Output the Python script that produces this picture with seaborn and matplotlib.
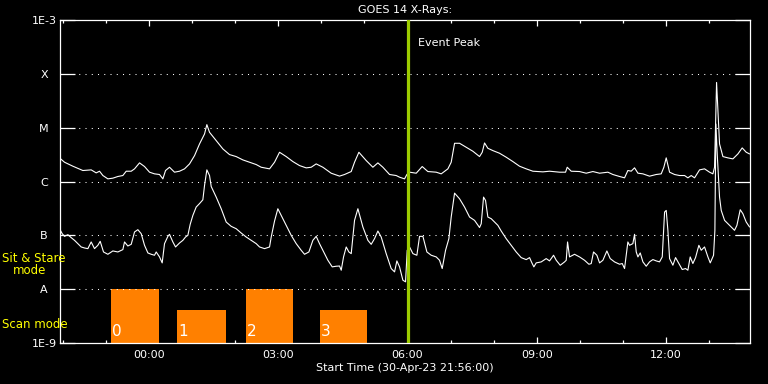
import numpy as np
import pandas as pd
import seaborn as sns
import matplotlib.pyplot as plt
from matplotlib.ticker import FixedLocator, MultipleLocator, NullLocator

# hours relative to 00:00 on 01-May-23 (start is 21:56 the day before)
long_hours = [
    -2.078, -1.962, -1.768, -1.536, -1.343, -1.227, -1.149, -1.072, -0.956, -0.840,
    -0.724, -0.608, -0.530, -0.414, -0.337, -0.221, -0.105, 0.011, 0.127, 0.243,
    0.321, 0.383, 0.475, 0.591, 0.708, 0.824, 0.940, 1.056, 1.172, 1.288,
    1.342, 1.404, 1.559, 1.714, 1.868, 2.023, 2.178, 2.333, 2.487, 2.603,
    2.797, 2.913, 3.029, 3.184, 3.339, 3.493, 3.648, 3.764, 3.880, 4.035,
    4.228, 4.422, 4.538, 4.693, 4.770, 4.871, 5.041, 5.196, 5.312, 5.428,
    5.583, 5.737, 5.815, 5.931, 5.985, 6.047, 6.202, 6.341, 6.472, 6.666,
    6.782, 6.937, 7.014, 7.092, 7.208, 7.362, 7.517, 7.672, 7.734, 7.788,
    7.865, 7.981, 8.136, 8.291, 8.446, 8.600, 8.755, 8.910, 9.142, 9.297,
    9.529, 9.668, 9.707, 9.800, 9.993, 10.148, 10.303, 10.458, 10.651, 10.767,
    10.922, 11.038, 11.115, 11.193, 11.270, 11.348, 11.464, 11.618, 11.773, 11.889,
    11.951, 12.005, 12.083, 12.199, 12.315, 12.431, 12.508, 12.586, 12.663, 12.779,
    12.895, 13.011, 13.089, 13.127, 13.150, 13.174, 13.205, 13.243, 13.321, 13.437,
    13.553, 13.669, 13.769, 13.862, 13.940,
]
long_logflux = [
    -5.562, -5.642, -5.716, -5.796, -5.784, -5.840, -5.809, -5.889, -5.951, -5.938,
    -5.907, -5.889, -5.809, -5.809, -5.765, -5.654, -5.722, -5.827, -5.858, -5.870,
    -5.951, -5.796, -5.735, -5.827, -5.809, -5.765, -5.673, -5.519, -5.302, -5.117,
    -4.944, -5.086, -5.241, -5.395, -5.500, -5.537, -5.599, -5.642, -5.685, -5.735,
    -5.765, -5.642, -5.457, -5.537, -5.630, -5.704, -5.747, -5.735, -5.673, -5.735,
    -5.846, -5.900, -5.870, -5.815, -5.642, -5.457, -5.611, -5.735, -5.654, -5.735,
    -5.870, -5.889, -5.920, -5.951, -5.870, -5.827, -5.846, -5.722, -5.815, -5.827,
    -5.858, -5.765, -5.642, -5.290, -5.290, -5.364, -5.438, -5.537, -5.457, -5.284,
    -5.383, -5.426, -5.475, -5.549, -5.630, -5.716, -5.765, -5.809, -5.821, -5.809,
    -5.827, -5.827, -5.735, -5.809, -5.815, -5.846, -5.815, -5.846, -5.827, -5.870,
    -5.907, -5.932, -5.796, -5.808, -5.746, -5.845, -5.858, -5.901, -5.870, -5.858,
    -5.734, -5.561, -5.827, -5.870, -5.889, -5.889, -5.932, -5.889, -5.932, -5.784,
    -5.765, -5.827, -5.858, -5.734, -4.993, -4.160, -4.685, -5.302, -5.537, -5.561,
    -5.580, -5.488, -5.376, -5.456, -5.488,
]

short_hours = [
    -2.078, -2.016, -1.962, -1.884, -1.807, -1.730, -1.652, -1.575, -1.498, -1.420,
    -1.343, -1.266, -1.188, -1.134, -1.057, -0.956, -0.840, -0.724, -0.608, -0.569,
    -0.492, -0.414, -0.337, -0.260, -0.182, -0.105, -0.027, 0.050, 0.127, 0.166,
    0.243, 0.305, 0.359, 0.437, 0.475, 0.553, 0.615, 0.708, 0.785, 0.847,
    0.901, 0.955, 1.017, 1.094, 1.172, 1.249, 1.288, 1.342, 1.404, 1.443,
    1.559, 1.675, 1.791, 1.907, 2.023, 2.139, 2.255, 2.371, 2.487, 2.565,
    2.681, 2.797, 2.836, 2.913, 2.990, 3.068, 3.184, 3.300, 3.416, 3.532,
    3.609, 3.710, 3.803, 3.880, 3.957, 4.074, 4.151, 4.252, 4.344, 4.422,
    4.461, 4.515, 4.577, 4.639, 4.693, 4.770, 4.848, 4.964, 5.080, 5.157,
    5.234, 5.312, 5.389, 5.505, 5.621, 5.699, 5.753, 5.815, 5.892, 5.954,
    5.993, 6.047, 6.125, 6.217, 6.279, 6.357, 6.450, 6.550, 6.666, 6.743,
    6.805, 6.883, 6.960, 7.014, 7.092, 7.208, 7.324, 7.440, 7.556, 7.672,
    7.711, 7.765, 7.811, 7.865, 7.943, 8.020, 8.098, 8.175, 8.291, 8.407,
    8.523, 8.639, 8.755, 8.833, 8.887, 8.933, 8.987, 9.103, 9.219, 9.297,
    9.390, 9.452, 9.545, 9.645, 9.684, 9.715, 9.761, 9.877, 9.993, 10.109,
    10.210, 10.264, 10.318, 10.396, 10.458, 10.535, 10.628, 10.705, 10.806, 10.922,
    10.984, 11.038, 11.077, 11.115, 11.154, 11.231, 11.270, 11.309, 11.348, 11.402,
    11.464, 11.541, 11.618, 11.696, 11.773, 11.850, 11.913, 11.967, 12.005, 12.044,
    12.083, 12.160, 12.222, 12.299, 12.377, 12.454, 12.508, 12.562, 12.624, 12.686,
    12.763, 12.818, 12.895, 12.973, 13.027, 13.104, 13.135, 13.158, 13.189, 13.243,
    13.282, 13.360, 13.475, 13.591, 13.646, 13.723, 13.785, 13.862, 13.940,
]
short_logflux = [
    -6.877, -6.969, -7.019, -6.988, -7.043, -7.093, -7.154, -7.216, -7.235, -7.247,
    -7.123, -7.247, -7.185, -7.111, -7.309, -7.352, -7.290, -7.309, -7.265, -7.123,
    -7.198, -7.167, -6.938, -6.895, -6.969, -7.185, -7.327, -7.352, -7.370, -7.309,
    -7.401, -7.512, -7.154, -7.019, -6.981, -7.123, -7.216, -7.142, -7.093, -7.031,
    -7.000, -6.796, -6.630, -6.475, -6.410, -6.340, -6.074, -5.784, -5.889, -6.093,
    -6.290, -6.506, -6.753, -6.833, -6.877, -6.957, -7.031, -7.093, -7.154, -7.216,
    -7.247, -7.216, -7.031, -6.735, -6.506, -6.630, -6.815, -7.000, -7.154, -7.278,
    -7.352, -7.309, -7.093, -7.019, -7.154, -7.340, -7.463, -7.586, -7.574, -7.570,
    -7.648, -7.401, -7.216, -7.309, -7.340, -6.722, -6.506, -6.846, -7.093, -7.167,
    -7.062, -6.920, -7.031, -7.340, -7.617, -7.679, -7.475, -7.586, -7.833, -7.864,
    -7.278, -7.216, -7.340, -7.370, -7.019, -7.019, -7.309, -7.370, -7.401, -7.463,
    -7.617, -7.278, -7.062, -6.660, -6.216, -6.321, -6.475, -6.660, -6.722, -6.855,
    -6.784, -6.290, -6.352, -6.660, -6.691, -6.753, -6.815, -6.920, -7.062, -7.185,
    -7.309, -7.414, -7.451, -7.414, -7.512, -7.586, -7.512, -7.494, -7.432, -7.475,
    -7.370, -7.463, -7.556, -7.494, -7.463, -7.123, -7.401, -7.352, -7.401, -7.463,
    -7.537, -7.525, -7.309, -7.370, -7.512, -7.463, -7.290, -7.432, -7.494, -7.537,
    -7.524, -7.617, -7.370, -7.123, -7.185, -7.154, -6.981, -7.308, -7.401, -7.327,
    -7.493, -7.574, -7.493, -7.450, -7.475, -7.493, -7.401, -6.567, -6.537, -6.907,
    -7.432, -7.555, -7.413, -7.524, -7.635, -7.617, -7.648, -7.401, -7.524, -7.413,
    -7.185, -7.277, -7.216, -7.401, -7.512, -7.370, -6.907, -4.932, -5.487, -6.290,
    -6.537, -6.722, -6.815, -6.907, -6.815, -6.524, -6.598, -6.753, -6.845,
]

# observing mode blocks
bar_labels = ["0", "1", "2", "3"]
bar_starts = [-0.894, 0.660, 2.240, 3.960]
bar_ends = [0.220, 1.775, 3.350, 5.070]
bar_tops = [1.0e-8, 4.1e-9, 1.0e-8, 4.1e-9]

level_values = [1e-9, 1e-8, 1e-7, 1e-6, 1e-5, 1e-4, 1e-3]
level_labels = ["1E-9", "A", "B", "C", "M", "X", "1E-3"]
hour_ticks = [0, 3, 6, 9, 12]
hour_labels = ["00:00", "03:00", "06:00", "09:00", "12:00"]
event_peak = 6.02

sns.set_theme(style="dark", rc={"axes.facecolor": "black", "figure.facecolor": "black"})
plt.rcParams["font.family"] = ["DejaVu Sans"]

long_df = pd.DataFrame({"hour": long_hours, "flux": 10 ** np.array(long_logflux)})
short_df = pd.DataFrame({"hour": short_hours, "flux": 10 ** np.array(short_logflux)})

fig = plt.figure(figsize=(7.68, 3.84), dpi=100)
ax = fig.add_axes([60 / 768, 41 / 384, 690 / 768, 323 / 384])
ax.set_facecolor("black")

for s, e, t in zip(bar_starts, bar_ends, bar_tops):
    ax.bar(s, t - 1e-9, bottom=1e-9, width=e - s, align="edge", color="#ff8000", lw=0, zorder=1)
for s, lab in zip(bar_starts, bar_labels):
    ax.text(s + 0.03, 0.012, lab, transform=ax.get_xaxis_transform(), color="white",
            fontsize=11, ha="left", va="bottom", zorder=3)

sns.lineplot(data=long_df, x="hour", y="flux", ax=ax, color="white", lw=0.8,
             estimator=None, sort=False, zorder=4)
sns.lineplot(data=short_df, x="hour", y="flux", ax=ax, color="white", lw=0.8,
             estimator=None, sort=False, zorder=4)

ax.axvline(event_peak, color="#9ccc00", lw=2.3, zorder=5)
ax.text(event_peak + 0.22, 0.93, "Event Peak", transform=ax.get_xaxis_transform(),
        color="white", fontsize=8, ha="left", va="center")

ax.set_yscale("log")
ax.set_ylim(1e-9, 1e-3)
ax.set_xlim(-2.067, 13.95)
ax.set_xlabel("")
ax.set_ylabel("")

ax.yaxis.set_major_locator(FixedLocator(level_values))
ax.yaxis.set_minor_locator(NullLocator())
ax.set_yticklabels(level_labels)
ax.xaxis.set_major_locator(FixedLocator(hour_ticks))
ax.xaxis.set_minor_locator(MultipleLocator(1))
ax.set_xticklabels(hour_labels)

ax.tick_params(axis="y", which="major", direction="in", length=10.5, width=0.9, color="white",
               left=True, right=True, labelcolor="white", labelsize=8, pad=11.5)
ax.tick_params(axis="x", which="major", direction="in", length=4.5, width=0.9, color="white",
               bottom=True, top=True, labelcolor="white", labelsize=8, pad=5)
ax.tick_params(axis="x", which="minor", direction="in", length=2.3, width=0.9, color="white",
               bottom=True, top=True)
for lab in ax.get_yticklabels():
    lab.set_ha("center")

ax.grid(False)
for v in level_values[1:-1]:
    ax.axhline(v, color="white", lw=0.75, ls=(0, (1, 5)), zorder=2)

for sp in ax.spines.values():
    sp.set_color("white")
    sp.set_linewidth(0.9)
    sp.set_visible(True)

fig.text(405 / 768, 1 - 10 / 384, "GOES 14 X-Rays:", color="white", fontsize=8, ha="center", va="center")
fig.text(405 / 768, 1 - 368 / 384, "Start Time (30-Apr-23 21:56:00)", color="white", fontsize=8,
         ha="center", va="center")
fig.text(2 / 768, 1 - 258 / 384, "Sit & Stare", color="#ffff00", fontsize=8.5, ha="left", va="center")
fig.text(13 / 768, 1 - 271 / 384, "mode", color="#ffff00", fontsize=8.5, ha="left", va="center")
fig.text(2 / 768, 1 - 324 / 384, "Scan mode", color="#ffff00", fontsize=8.5, ha="left", va="center")

fig.savefig("out.png", dpi=100, facecolor="black")
